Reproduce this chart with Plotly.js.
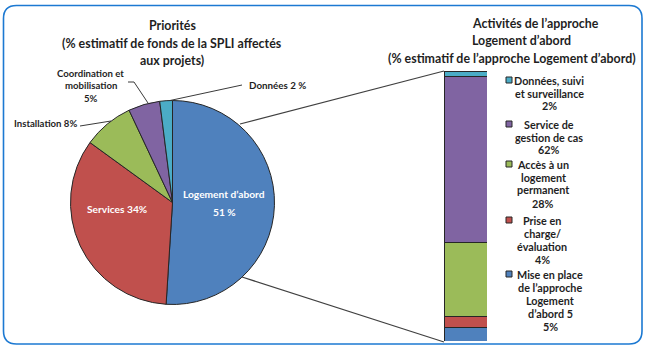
<!DOCTYPE html>
<html><head><meta charset="utf-8">
<script src="https://cdn.plot.ly/plotly-3.0.1.min.js"></script>
<style>html,body{margin:0;padding:0;background:#fff;}#chart{width:647px;height:353px;}</style>
</head><body><div id="chart"></div>
<script>
// ---------- DATA ----------
const pieLabels = ['Logement d’abord', 'Services', 'Installation', 'Coordination et mobilisation', 'Données'];
const pieValues = [51, 34, 8, 5, 2];
const pieUnits = [' %', '%', '%', '%', ' %'];

const barLabels = ['Mise en place de l’approche Logement d’abord 5', 'Prise en charge/ évaluation',
                   'Accès à un logement permanent', 'Service de gestion de cas', 'Données, suivi et surveillance'];
const barValues = [5, 4, 28, 62, 2];
const barLegendLines = [
  ['Mise en place', 'de l’approche', 'Logement', 'd’abord 5'],
  ['Prise en', 'charge/', 'évaluation'],
  ['Accès à un', 'logement', 'permanent'],
  ['Service de', 'gestion de cas'],
  ['Données, suivi', 'et surveillance']
];
const leftTitleLines = ['Priorités', '(% estimatif de fonds de la SPLI affectés', 'aux projets)'];
const rightTitleLines = ['Activités de l’approche', 'Logement d’abord', '(% estimatif de l’approche Logement d’abord)'];

// ---------- STYLE ----------
const W = 647, H = 353;
const pieColors = ['#4F81BD', '#C0504D', '#9BBB59', '#8064A2', '#4BACC6'];
const barColors = ['#4F81BD', '#C0504D', '#9BBB59', '#8064A2', '#4BACC6'];
const FONT = 'Lato, "Open Sans", sans-serif';
const TXT = '#1f1f1f';
const X = p => p / W, Y = p => 1 - p / H;

const pieCx = 172.5, pieCy = 202.5, pieR = 102;

const traces = [{
  type: 'pie', values: pieValues, labels: pieLabels, sort: false,
  direction: 'clockwise', rotation: 0, textinfo: 'none', showlegend: false,
  marker: {colors: pieColors, line: {color: '#262626', width: 1}},
  domain: {x: [X(pieCx - pieR), X(pieCx + pieR)], y: [Y(pieCy + pieR), Y(pieCy - pieR)]},
  hovertemplate: '%{label}: %{value}%<extra></extra>'
}];
barLabels.forEach((lab, i) => traces.push({
  type: 'bar', x: [0], y: [barValues[i]], name: lab, width: 1, showlegend: false,
  marker: {color: barColors[i], line: {color: '#262626', width: 1}},
  hovertemplate: lab + ': %{y}%<extra></extra>'
}));

const ann = [];
function txt(x, y, text, o = {}) {
  ann.push({xref: 'paper', yref: 'paper', x: X(x), y: Y(y), text: '<b>' + text + '</b>', showarrow: false,
    xanchor: o.xa || 'center', yanchor: 'middle', align: o.align || 'center',
    font: {family: FONT, size: o.size || 11, color: o.color || TXT}});
}
// titles
[25, 43, 60].forEach((y, i) => txt(172, y, leftTitleLines[i], {size: 12.4}));
txt(470, 24, rightTitleLines[0], {size: 12.4, xa: 'left'});
txt(470, 40, rightTitleLines[1], {size: 12.4, xa: 'left'});
txt(512, 59, rightTitleLines[2], {size: 12.4});

// pie labels
txt(224, 194, pieLabels[0], {color: '#fff', size: 10.2});
txt(224, 212, pieValues[0] + pieUnits[0], {color: '#fff', size: 10.2});
txt(117, 209, pieLabels[1] + ' ' + pieValues[1] + pieUnits[1], {color: '#fff', size: 10.2});
txt(12, 123, pieLabels[2] + ' ' + pieValues[2] + pieUnits[2], {xa: 'left', size: 9.6});
const coordLines = ['Coordination et', 'mobilisation', pieValues[3] + pieUnits[3]];
coordLines.forEach((l, i) => txt(91, 73 + i * 12.5, l, {size: 9.6}));
txt(247, 85, pieLabels[4] + ' ' + pieValues[4] + pieUnits[4], {xa: 'left', size: 9.8});

// legend (bar)
const legendTop = [274, 220, 164, 124, 80];
const legendCenter = [550, 542, 543, 549, 549];
const shapes = [];
barLegendLines.forEach((lines, i) => {
  const all = lines.concat([barValues[i] + '%']);
  all.forEach((l, j) => ann.push({xref: 'paper', yref: 'paper', x: X(legendCenter[i]), y: Y(legendTop[i] + j * 13),
    text: '<b>' + l + '</b>', showarrow: false, xanchor: 'center', yanchor: 'middle',
    font: {family: FONT, size: 10.8, color: TXT}}));
  shapes.push({type: 'rect', xref: 'paper', yref: 'paper', x0: X(506), x1: X(512),
    y0: Y(legendTop[i] + 3), y1: Y(legendTop[i] - 3), fillcolor: barColors[i], line: {color: '#262626', width: 1}});
});

// leader lines & connectors
function path(pts, color = '#3a3a3a', w = 1) {
  const d = pts.map((p, k) => (k ? 'L' : 'M') + X(p[0]) + ',' + Y(p[1])).join(' ');
  shapes.push({type: 'path', xref: 'paper', yref: 'paper', path: d, line: {color, width: w}});
}
path([[80, 126], [111, 121]]);
path([[128, 82], [134, 82], [148, 103]]);
path([[242, 85], [170, 100.5]]);
path([[240, 124], [444, 71]], '#404040', 1.2);
path([[242, 277], [444, 342]], '#404040', 1.2);

// rounded frame
(function () {
  const x0 = 3.5, x1 = 642, y0 = 5.5, y1 = 344, r = 13;
  const P = (x, y) => X(x) + ',' + Y(y);
  const d = 'M' + P(x0 + r, y0) + ' L' + P(x1 - r, y0) + ' Q' + P(x1, y0) + ' ' + P(x1, y0 + r) +
    ' L' + P(x1, y1 - r) + ' Q' + P(x1, y1) + ' ' + P(x1 - r, y1) +
    ' L' + P(x0 + r, y1) + ' Q' + P(x0, y1) + ' ' + P(x0, y1 - r) +
    ' L' + P(x0, y0 + r) + ' Q' + P(x0, y0) + ' ' + P(x0 + r, y0) + ' Z';
  shapes.push({type: 'path', xref: 'paper', yref: 'paper', path: d, line: {color: '#1C79D2', width: 1.6}, layer: 'below'});
})();

const layout = {
  width: W, height: H, margin: {l: 0, r: 0, t: 0, b: 0},
  paper_bgcolor: '#fff', plot_bgcolor: 'rgba(0,0,0,0)',
  barmode: 'stack', showlegend: false,
  xaxis: {domain: [X(444), X(487)], range: [-0.5, 0.5], visible: false, fixedrange: true},
  yaxis: {domain: [Y(341), Y(71)], range: [0, 101], visible: false, fixedrange: true},
  annotations: ann, shapes: shapes
};
Plotly.newPlot('chart', traces, layout, {displayModeBar: false, staticPlot: true});
</script></body></html>
